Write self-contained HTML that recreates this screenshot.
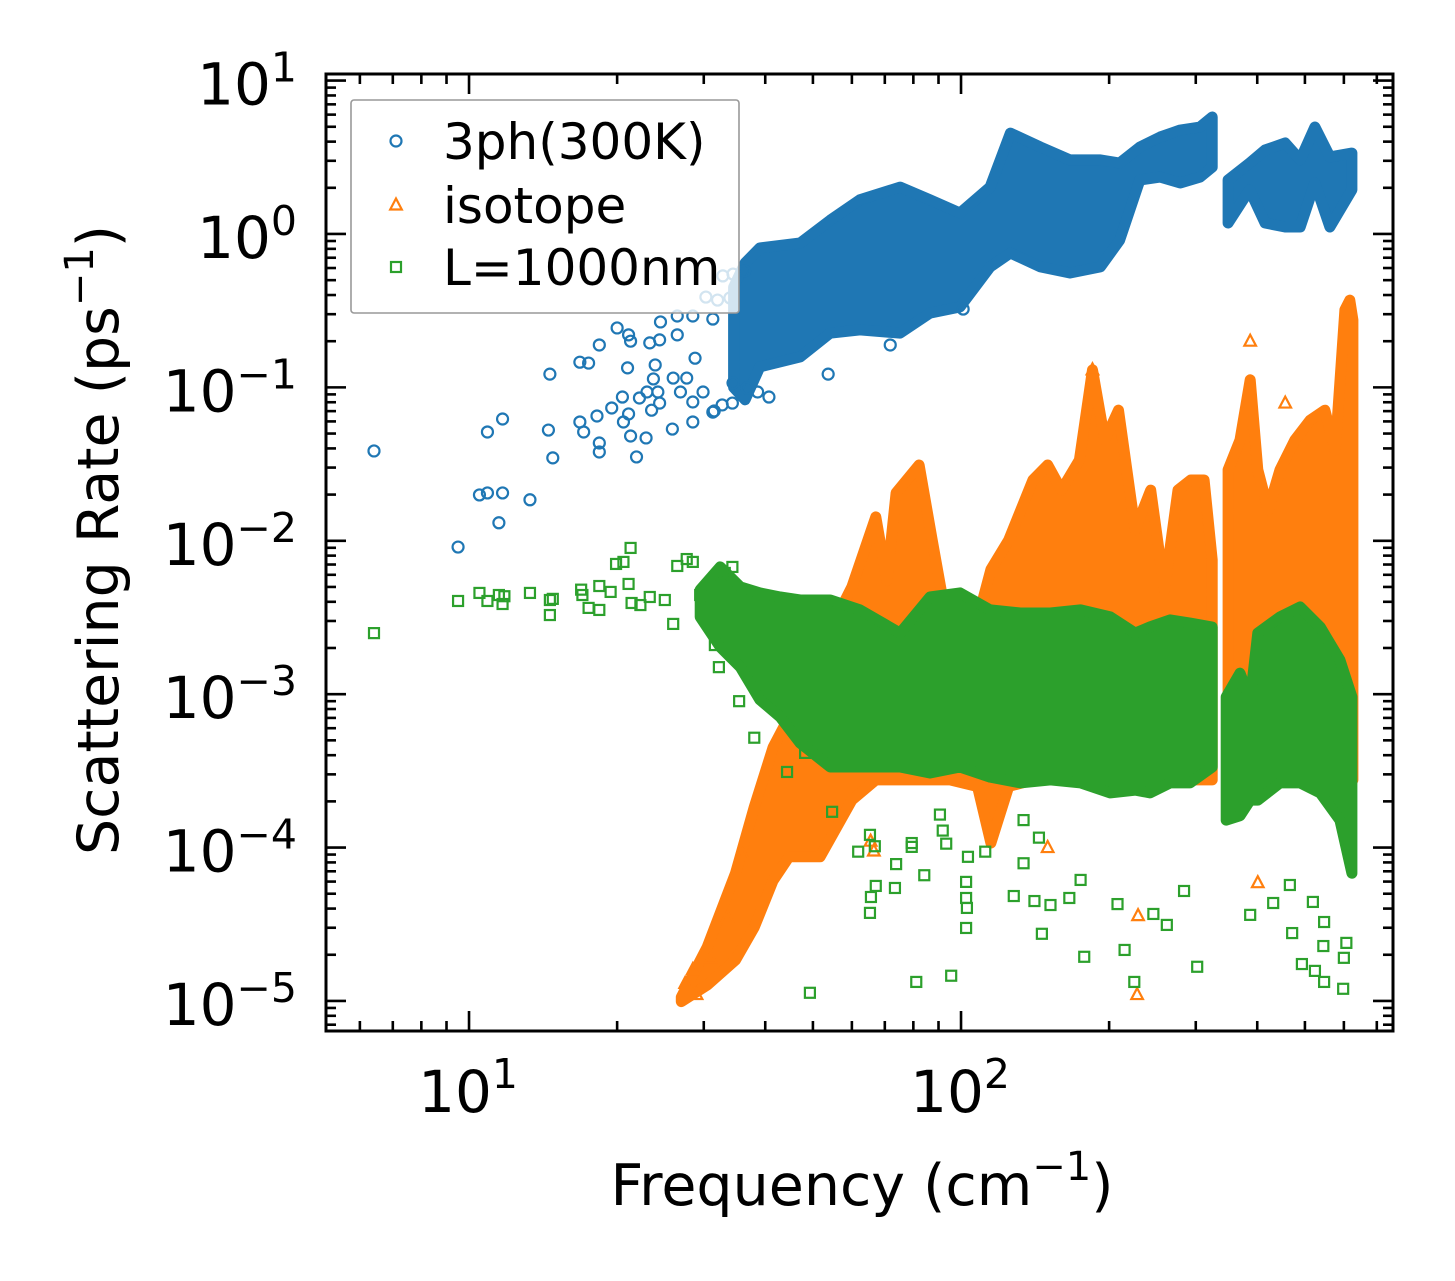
<!DOCTYPE html>
<html><head><meta charset="utf-8"><title>Scattering rate vs frequency</title>
<style>
html,body{margin:0;padding:0;background:#fff;}
svg{display:block;font-family:"DejaVu Sans","Liberation Sans",sans-serif;}
</style></head>
<body>
<svg id="chart" width="1455" height="1281" viewBox="0 0 1455 1281" xmlns="http://www.w3.org/2000/svg">
<defs><clipPath id="plotclip"><rect x="326" y="74" width="1067" height="957"/></clipPath></defs>
<rect x="0" y="0" width="1455" height="1281" fill="#fff"/>
<g id="series" clip-path="url(#plotclip)"></g>
<g id="axes"></g>
<g id="legend"></g>
<text x="862" y="1205" font-size="57" text-anchor="middle">Frequency (cm<tspan dy="-25" font-size="40">−1</tspan><tspan dy="25">)</tspan></text>
<text transform="translate(118,540) rotate(-90)" x="0" y="0" font-size="57" text-anchor="middle">Scattering Rate (ps<tspan dy="-25" font-size="40">−1</tspan><tspan dy="25">)</tspan></text>
</svg>
<script>
// ---------- data (frequency in cm^-1, rate in ps^-1) ----------
const xTickValues = [10, 100];
const xTickExps = ["1", "2"];
const yTickValues = [1e1, 1e0, 1e-1, 1e-2, 1e-3, 1e-4, 1e-5];
const yTickExps = ["1", "0", "−1", "−2", "−3", "−4", "−5"];
const seriesNames = ["3ph(300K)", "isotope", "L=1000nm"];

// 3ph dense band envelopes
const blueBandX  = [34.5, 36.4, 39.0, 47.1, 54.2, 62.3, 75.2, 86.5, 99.5, 114.6, 126, 145, 166.5, 192, 210, 231, 254, 279, 306, 324];
const blueBandLo = [0.10, 0.083, 0.136, 0.158, 0.226, 0.237, 0.226, 0.305, 0.334, 0.61, 0.752, 0.61, 0.557, 0.61, 0.91, 2.25, 2.35, 2.15, 2.35, 2.73];
const blueBandHi = [0.45, 0.647, 0.81, 0.874, 1.23, 1.67, 2.02, 1.67, 1.37, 2.02, 4.55, 3.69, 3.04, 3.04, 2.9, 3.69, 4.29, 4.76, 4.98, 5.79];
const blueBand2X  = [349, 386, 415, 456, 489, 524, 562, 623];
const blueBand2Lo = [1.18, 1.94, 1.18, 1.11, 1.11, 2.15, 1.11, 1.94];
const blueBand2Hi = [2.25, 2.9, 3.53, 3.92, 3.04, 4.98, 3.18, 3.37];
// 3ph sparse points
const bluePtsX = [6.41, 9.5, 10.5, 10.9, 11.7, 11.5, 13.3, 10.9, 11.7, 14.5, 14.8, 14.6, 16.8, 17.5, 18.4, 20.0, 21.1, 21.3, 21.0, 16.8, 17.1, 18.2, 18.4, 18.4, 19.5, 20.5, 20.6, 21.3, 21.9, 22.9, 21.1, 22.2, 23.0, 23.5, 23.7, 24.2, 24.4, 23.9, 23.3, 24.5, 24.4, 25.9, 26.0, 26.9, 26.5, 26.5, 28.5, 28.5, 27.7, 28.8, 29.9, 31.5, 32.7, 34.3, 34.4, 36.7, 38.6, 40.7, 28.5, 31.3, 32.8, 34.4, 30.3, 32.0, 33.9, 36.3, 53.7, 71.8, 101, 31.3];
const bluePtsY = [0.0385, 0.0091, 0.0199, 0.0205, 0.0205, 0.0131, 0.0185, 0.0512, 0.0622, 0.0527, 0.0347, 0.122, 0.146, 0.144, 0.189, 0.244, 0.22, 0.20, 0.134, 0.0595, 0.0512, 0.0651, 0.0434, 0.0379, 0.0734, 0.0865, 0.0595, 0.0482, 0.0352, 0.0468, 0.0671, 0.0853, 0.0933, 0.071, 0.1135, 0.0933, 0.079, 0.14, 0.195, 0.267, 0.204, 0.0535, 0.115, 0.0933, 0.22, 0.292, 0.0595, 0.0803, 0.115, 0.155, 0.0933, 0.0702, 0.0768, 0.079, 0.107, 0.099, 0.0933, 0.0865, 0.292, 0.279, 0.533, 0.548, 0.388, 0.371, 0.383, 0.574, 0.122, 0.189, 0.324, 0.069];

// isotope band envelopes
const orangeBandX  = [27.0, 30.5, 34.8, 38.0, 41.5, 44.7, 51.7, 60.0, 67.1, 70.7, 73.8, 82.2, 87.4, 95.0, 108, 115, 125, 140, 150, 160, 174, 185, 196, 209, 226, 243, 259, 276, 293, 312, 324];
const orangeBandHi = [1.06e-5, 2.25e-5, 6.8e-5, 1.84e-4, 4.5e-4, 7.1e-4, 1.94e-3, 5.0e-3, 1.43e-2, 5.5e-3, 2.05e-2, 3.12e-2, 1.01e-2, 2.25e-3, 3.05e-3, 6.5e-3, 1.01e-2, 2.49e-2, 3.12e-2, 2.14e-2, 3.36e-2, 0.13, 4.54e-2, 7.1e-2, 1.18e-2, 2.14e-2, 4.8e-3, 2.14e-2, 2.49e-2, 2.49e-2, 7.5e-3];
const orangeBandLo = [0.99e-5, 1.27e-5, 1.85e-5, 3.03e-5, 6.1e-5, 8.7e-5, 8.7e-5, 2.04e-4, 2.76e-4, 2.76e-4, 2.76e-4, 2.76e-4, 2.76e-4, 2.76e-4, 2.5e-4, 1.07e-4, 2.5e-4, 2.76e-4, 2.76e-4, 2.76e-4, 2.76e-4, 2.76e-4, 2.76e-4, 2.76e-4, 2.76e-4, 2.76e-4, 2.76e-4, 2.76e-4, 2.76e-4, 2.76e-4, 2.76e-4];
const orangeBand2X  = [349, 369, 387, 401, 421, 445, 477, 512, 549, 576, 603, 617, 626];
const orangeBand2Hi = [2.9e-2, 4.54e-2, 0.112, 2.9e-2, 1.59e-2, 2.9e-2, 4.54e-2, 6.1e-2, 7.1e-2, 3.9e-2, 0.32, 0.37, 0.275];
const orangeBand2Lo = [2.76e-4, 2.76e-4, 2.76e-4, 2.76e-4, 2.76e-4, 2.76e-4, 2.76e-4, 2.76e-4, 2.76e-4, 2.76e-4, 2.76e-4, 2.76e-4, 2.76e-4];
// isotope sparse points
const orangePtsX = [401, 229, 228, 387, 456, 185, 27.5, 28.5, 29.0, 31.0, 33.5, 36.0, 65.5, 66.5, 150];
const orangePtsY = [5.9e-5, 3.6e-5, 1.1e-5, 0.20, 0.079, 0.13, 1.3e-5, 1.6e-5, 1.1e-5, 1.9e-5, 3.5e-5, 9.0e-5, 1.1e-4, 9.5e-5, 1.0e-4];

// L=1000nm band envelopes
const greenBandX  = [29.5, 32.4, 35.6, 39.0, 42.9, 47.1, 54.2, 62.3, 75.2, 86.5, 99.5, 114.6, 132, 152, 175, 201, 226, 242, 266, 292, 324];
const greenBandHi = [4.8e-3, 6.75e-3, 5.0e-3, 4.57e-3, 4.3e-3, 4.11e-3, 4.11e-3, 3.54e-3, 2.5e-3, 4.3e-3, 4.57e-3, 3.54e-3, 3.38e-3, 3.38e-3, 3.54e-3, 3.19e-3, 2.5e-3, 2.74e-3, 3.05e-3, 2.91e-3, 2.74e-3];
const greenBandLo = [3.19e-3, 2.03e-3, 1.5e-3, 9.2e-4, 7.1e-4, 4.8e-4, 3.35e-4, 3.35e-4, 3.35e-4, 3.06e-4, 3.35e-4, 2.88e-4, 2.64e-4, 2.76e-4, 2.64e-4, 2.27e-4, 2.37e-4, 2.27e-4, 2.64e-4, 2.64e-4, 3.35e-4];
const greenBand2X  = [346, 369, 387, 401, 445, 489, 537, 589, 623];
const greenBand2Hi = [9.6e-4, 1.37e-3, 9.2e-4, 2.5e-3, 3.19e-3, 3.7e-3, 2.74e-3, 1.67e-3, 9.6e-4];
const greenBand2Lo = [1.51e-4, 1.61e-4, 2.04e-4, 2.04e-4, 2.64e-4, 2.64e-4, 2.27e-4, 1.51e-4, 6.8e-5];
// L=1000nm sparse points
const greenPtsX = [6.41, 9.5, 10.5, 10.9, 11.5, 11.8, 11.7, 13.3, 14.6, 14.8, 14.6, 16.9, 17.0, 17.5, 18.4, 18.4, 19.4, 19.9, 20.6, 21.3, 21.1, 21.4, 26.5, 27.7, 28.5, 26.0, 31.6, 32.2, 34.3, 33.1, 23.3, 25.0, 22.3, 29.5, 35.4, 38.0, 44.3, 48.2, 54.7, 65.3, 79.4, 49.3, 81.1, 95.5, 102.4, 102.8, 102.4, 102.4, 65.3, 65.6, 67.1, 73.4, 73.8, 84.2, 61.8, 66.8, 79.4, 93.3, 103.3, 128, 141, 152, 166, 175, 146, 178, 215, 225, 302, 284, 262, 246, 208, 387, 431, 471, 493, 524, 547, 545, 607, 598, 600, 547, 519, 466, 134, 144, 134, 112, 91.8, 90.6];
const greenPtsY = [2.5e-3, 4.05e-3, 4.57e-3, 4.05e-3, 4.43e-3, 4.35e-3, 3.87e-3, 4.57e-3, 4.11e-3, 4.18e-3, 3.28e-3, 4.8e-3, 4.43e-3, 3.65e-3, 5.07e-3, 3.54e-3, 4.64e-3, 7.06e-3, 7.28e-3, 8.98e-3, 5.23e-3, 3.93e-3, 6.85e-3, 7.6e-3, 7.28e-3, 2.87e-3, 2.09e-3, 1.5e-3, 6.75e-3, 6.17e-3, 4.3e-3, 4.11e-3, 3.81e-3, 4.43e-3, 9.0e-4, 5.2e-4, 3.11e-4, 4.14e-4, 1.71e-4, 1.21e-4, 1.07e-4, 1.13e-5, 1.33e-5, 1.46e-5, 2.99e-5, 4.04e-5, 4.69e-5, 5.97e-5, 3.75e-5, 4.76e-5, 5.62e-5, 5.45e-5, 7.8e-5, 6.6e-5, 9.4e-5, 1.02e-4, 1.01e-4, 1.06e-4, 8.7e-5, 4.83e-5, 4.48e-5, 4.22e-5, 4.69e-5, 6.15e-5, 2.74e-5, 1.94e-5, 2.15e-5, 1.33e-5, 1.67e-5, 5.21e-5, 3.13e-5, 3.69e-5, 4.28e-5, 3.64e-5, 4.35e-5, 2.77e-5, 1.74e-5, 1.57e-5, 1.33e-5, 2.28e-5, 2.39e-5, 1.2e-5, 1.91e-5, 3.27e-5, 4.42e-5, 5.7e-5, 7.9e-5, 1.16e-4, 1.51e-4, 9.4e-5, 1.29e-4, 1.64e-4];

// ---------- scales ----------
const X0 = 326, X1 = 1393, Y0 = 74, Y1 = 1031;
const xLogMin = 0.7093, xLogMax = 2.878, yLogMin = -5.196, yLogMax = 1.043;
function sx(v) { return X0 + (Math.log10(v) - xLogMin) / (xLogMax - xLogMin) * (X1 - X0); }
function sy(v) { return Y1 - (Math.log10(v) - yLogMin) / (yLogMax - yLogMin) * (Y1 - Y0); }

const NS = "http://www.w3.org/2000/svg";
function mk(tag, attrs, parent) {
  const e = document.createElementNS(NS, tag);
  for (const k in attrs) e.setAttribute(k, attrs[k]);
  parent.appendChild(e);
  return e;
}
const COLORS = ["#1f77b4", "#ff7f0e", "#2ca02c"];
const gS = document.getElementById("series");
const gA = document.getElementById("axes");
const gL = document.getElementById("legend");

function band(X, lo, hi, color, name) {
  const pts = [];
  for (let i = 0; i < X.length; i++) pts.push(sx(X[i]).toFixed(1) + "," + sy(hi[i]).toFixed(1));
  for (let i = X.length - 1; i >= 0; i--) pts.push(sx(X[i]).toFixed(1) + "," + sy(lo[i]).toFixed(1));
  const p = mk("polygon", {points: pts.join(" "), fill: color, stroke: color, "stroke-width": 11, "stroke-linejoin": "round"}, gS);
  
  
}
function marker(kind, cx, cy, color, parent) {
  let e;
  if (kind === 0) e = mk("circle", {cx: cx, cy: cy, r: 5.5, fill: "none", stroke: color, "stroke-width": 2.2}, parent);
  else if (kind === 1) e = mk("path", {d: `M${cx},${cy-6.5} L${cx+5.8},${cy+4.5} L${cx-5.8},${cy+4.5} Z`, fill: "none", stroke: color, "stroke-width": 2.2, "stroke-linejoin": "miter"}, parent);
  else e = mk("rect", {x: cx - 5, y: cy - 5, width: 10, height: 10, fill: "none", stroke: color, "stroke-width": 2.2}, parent);
  return e;
}
function points(X, Y, kind, name) {
  for (let i = 0; i < X.length; i++) {
    const e = marker(kind, sx(X[i]), sy(Y[i]), COLORS[kind], gS);
    
    
  }
}

band(blueBandX, blueBandLo, blueBandHi, COLORS[0], "3ph-band-low-freq");
band(blueBand2X, blueBand2Lo, blueBand2Hi, COLORS[0], "3ph-band-high-freq");
points(bluePtsX, bluePtsY, 0, "3ph-point");
band(orangeBandX, orangeBandLo, orangeBandHi, COLORS[1], "isotope-band-low-freq");
band(orangeBand2X, orangeBand2Lo, orangeBand2Hi, COLORS[1], "isotope-band-high-freq");
points(orangePtsX, orangePtsY, 1, "isotope-point");
band(greenBandX, greenBandLo, greenBandHi, COLORS[2], "boundary-band-low-freq");
band(greenBand2X, greenBand2Lo, greenBand2Hi, COLORS[2], "boundary-band-high-freq");
points(greenPtsX, greenPtsY, 2, "boundary-point");

// ---------- axes ----------
const frame = mk("rect", {x: X0, y: Y0, width: X1 - X0, height: Y1 - Y0, fill: "none", stroke: "#000", "stroke-width": 3}, gA);



function tickX(v, len, name) {
  const x = sx(v);
  const t1 = mk("line", {x1: x, x2: x, y1: Y1, y2: Y1 - len, stroke: "#000", "stroke-width": 2.6}, gA);
  
  
  const t2 = mk("line", {x1: x, x2: x, y1: Y0, y2: Y0 + len, stroke: "#000", "stroke-width": 2.6}, gA);
  
  
}
function tickY(v, len, name) {
  const y = sy(v);
  const t1 = mk("line", {x1: X0, x2: X0 + len, y1: y, y2: y, stroke: "#000", "stroke-width": 2.6}, gA);
  
  
  const t2 = mk("line", {x1: X1, x2: X1 - len, y1: y, y2: y, stroke: "#000", "stroke-width": 2.6}, gA);
  
  
}
for (let d = 0; d <= 3; d++) {
  for (let m = 1; m <= 9; m++) {
    const v = Math.pow(10, d) * m;
    const lg = Math.log10(v);
    if (lg < xLogMin || lg > xLogMax) continue;
    tickX(v, m === 1 ? 20 : 10, m === 1 ? "x-major-tick" : "x-minor-tick");
  }
}
for (let d = -6; d <= 1; d++) {
  for (let m = 1; m <= 9; m++) {
    const v = Math.pow(10, d) * m;
    const lg = Math.log10(v);
    if (lg < yLogMin || lg > yLogMax) continue;
    tickY(v, m === 1 ? 20 : 10, m === 1 ? "y-major-tick" : "y-minor-tick");
  }
}
for (let i = 0; i < xTickValues.length; i++) {
  const t = mk("text", {x: sx(xTickValues[i]) - 1, y: 1112, "font-size": 58, "text-anchor": "middle"}, gA);
  t.textContent = "10";
  const s = mk("tspan", {dy: -24, "font-size": 41}, t);
  s.textContent = xTickExps[i];
  
  
}
for (let i = 0; i < yTickValues.length; i++) {
  const t = mk("text", {x: 297, y: sy(yTickValues[i]) + 24, "font-size": 58, "text-anchor": "end"}, gA);
  t.textContent = "10";
  const s = mk("tspan", {dy: -23, "font-size": 41}, t);
  s.textContent = yTickExps[i];
  
  
}

// ---------- legend ----------
const lbox = mk("rect", {x: 351, y: 100, width: 388, height: 213, rx: 3, fill: "rgba(255,255,255,0.8)", stroke: "#999", "stroke-width": 1.6}, gL);


const legY = [141, 205, 267];
for (let i = 0; i < 3; i++) {
  const m = marker(i, 396, legY[i], COLORS[i], gL);
  
  
  const t = mk("text", {x: 443, y: legY[i] + 18, "font-size": 50}, gL);
  t.textContent = seriesNames[i];
  
  
}
</script>
</body></html>
